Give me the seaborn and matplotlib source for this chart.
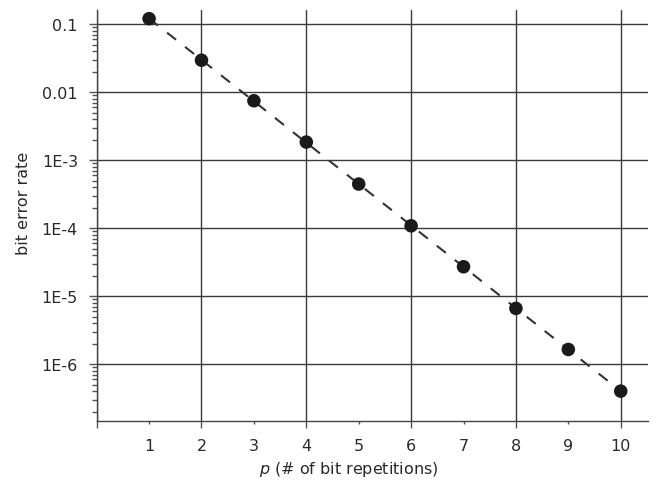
import numpy as np
import pandas as pd
import matplotlib
matplotlib.use("Agg")
import matplotlib.pyplot as plt
import seaborn as sns
from matplotlib.ticker import FixedLocator, FixedFormatter, NullFormatter

# Data
repetitions = [1, 2, 3, 4, 5, 6, 7, 8, 9, 10]
bit_error_rate = [0.12, 0.0294, 0.00745, 0.00184, 4.44e-4, 1.08e-4, 2.70e-5, 6.59e-6, 1.64e-6, 4.0e-7]
y_tick_values = [0.1, 0.01, 1e-3, 1e-4, 1e-5, 1e-6]
y_tick_labels = ["0.1", "0.01", "1E-3", "1E-4", "1E-5", "1E-6"]
x_major_ticks = [0, 2, 4, 6, 8, 10]
x_major_labels = ["", "2", "4", "6", "8", "10"]
x_minor_ticks = [1, 3, 5, 7, 9]
x_minor_labels = ["1", "3", "5", "7", "9"]

df = pd.DataFrame({"p": repetitions, "ber": bit_error_rate})
# log-linear fit for dashed line
coef = np.polyfit(df["p"], np.log10(df["ber"]), 1)
fit_df = pd.DataFrame({"p": df["p"], "ber": 10 ** np.polyval(coef, df["p"])})

sns.set_style("white")
plt.rcParams["font.family"] = ["DejaVu Sans"]

fig = plt.figure(figsize=(6.59, 4.85), dpi=100)
ax = fig.add_axes([0.1467, 0.1305, 0.8366, 0.8468])

sns.lineplot(data=fit_df, x="p", y="ber", ax=ax, color="#333333", lw=1.5,
             dashes=False, zorder=3)
ax.lines[-1].set_dashes((5.5, 5.5))
sns.scatterplot(data=df, x="p", y="ber", ax=ax, color="#1a1a1a", s=95,
                edgecolor="none", zorder=4)

ax.set_yscale("log")
ax.set_xlim(0, 10.52)
ax.set_ylim(1.47e-7, 0.161)

ax.yaxis.set_major_locator(FixedLocator(y_tick_values))
ax.yaxis.set_major_formatter(FixedFormatter(y_tick_labels))
minor_y = [m * 10.0 ** e for e in range(-7, 0) for m in range(2, 10)]
ax.yaxis.set_minor_locator(FixedLocator(minor_y))
ax.yaxis.set_minor_formatter(NullFormatter())

ax.xaxis.set_major_locator(FixedLocator(x_major_ticks))
ax.xaxis.set_major_formatter(FixedFormatter(x_major_labels))
ax.xaxis.set_minor_locator(FixedLocator(x_minor_ticks))
ax.xaxis.set_minor_formatter(FixedFormatter(x_minor_labels))

tc = "#2a2a2a"
ax.tick_params(axis="y", which="major", direction="out", length=6, width=1,
               color="#555555", labelsize=11.5, labelcolor=tc, pad=7.5, left=True)
ax.tick_params(axis="y", which="minor", direction="out", length=3.5, width=1,
               color="#555555", left=True)
ax.tick_params(axis="x", which="major", direction="out", length=5, width=1,
               color="#555555", labelsize=11.5, labelcolor=tc, pad=7.5, bottom=True)
ax.tick_params(axis="x", which="minor", direction="out", length=2.5, width=1,
               color="#555555", labelsize=11.5, labelcolor=tc, pad=10.0, bottom=True)

ax.grid(True, which="major", axis="both", color="#3a3a3a", lw=1.0)
ax.set_axisbelow(True)

for s in ["top", "right"]:
    ax.spines[s].set_visible(False)
for s in ["left", "bottom"]:
    ax.spines[s].set_color("#444444")
    ax.spines[s].set_linewidth(1.0)

ax.set_xlabel("$p$ (# of bit repetitions)", fontsize=11.5, color=tc)
ax.set_ylabel("bit error rate", fontsize=11.5, color=tc)
ax.xaxis.set_label_coords(0.4576, -0.094)
ax.yaxis.set_label_coords(-0.119, 0.531)

fig.savefig("out.png", dpi=100)
